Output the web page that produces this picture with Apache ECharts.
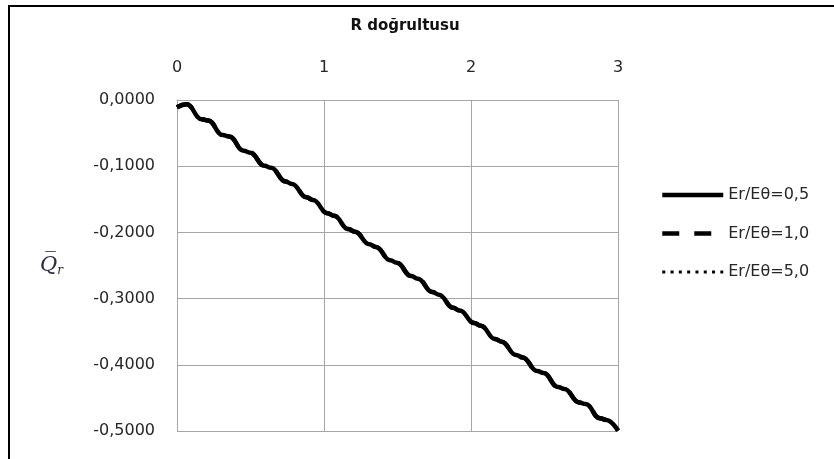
<!DOCTYPE html>
<html>
<head>
<meta charset="utf-8">
<script src="https://cdn.jsdelivr.net/npm/echarts@6/dist/echarts.min.js"></script>
<style>
  html, body { margin: 0; padding: 0; background: #ffffff; }
  #chart { width: 834px; height: 459px; }
</style>
</head>
<body>
<div id="chart"></div>
<script>
// Radial distance R along the section
const rValues = [
  0.000, 0.065,
  0.168, 0.212, 0.311, 0.355, 0.453, 0.497, 0.596, 0.640,
  0.738, 0.782, 0.881, 0.925, 1.024, 1.068, 1.166, 1.210,
  1.309, 1.353, 1.451, 1.495, 1.594, 1.638, 1.737, 1.781,
  1.879, 1.923, 2.022, 2.066, 2.164, 2.208, 2.307, 2.351,
  2.450, 2.494, 2.592, 2.636, 2.735, 2.779, 2.877, 2.921,
  3.000
];

// Normalised Q̄r; the three stiffness ratios give coincident curves
const qBar = [
  -0.0110, -0.0065,
  -0.0290, -0.0310, -0.0530, -0.0550, -0.0765, -0.0795, -0.0995, -0.1025,
  -0.1232, -0.1268, -0.1470, -0.1510, -0.1710, -0.1750, -0.1950, -0.1990,
  -0.2180, -0.2220, -0.2420, -0.2460, -0.2660, -0.2700, -0.2900, -0.2940,
  -0.3140, -0.3180, -0.3370, -0.3410, -0.3610, -0.3650, -0.3852, -0.3888,
  -0.4095, -0.4125, -0.4335, -0.4365, -0.4568, -0.4592, -0.4808, -0.4832,
  -0.4995
];

const seriesNames = ['Er/Eθ=0,5', 'Er/Eθ=1,0', 'Er/Eθ=5,0'];
const seriesDash = ['solid', [17, 15], [3, 5.3]];
const seriesWidth = [4.5, 4.5, 3];

const xTicks = { min: 0, max: 3, interval: 1 };
const yTicks = { min: -0.5, max: 0, interval: 0.1 };

const points = rValues.map((r, i) => [r, qBar[i]]);

const chart = echarts.init(document.getElementById('chart'), null, { renderer: 'canvas' });

const gridColor = '#a6a6a6';
const textColor = '#262626';
const baseFont = 'DejaVu Sans';

chart.setOption({
  backgroundColor: '#ffffff',
  animation: false,
  title: {
    text: 'R doğrultusu',
    left: 405,
    top: 19,
    textAlign: 'center',
    padding: 0,
    textStyle: { fontFamily: baseFont, fontWeight: 'bold', fontSize: 15, color: '#111111' }
  },
  grid: { left: 177, top: 100, right: 216, bottom: 28, containLabel: false },
  legend: {
    orient: 'vertical',
    left: 660,
    top: 185,
    itemWidth: 61,
    itemHeight: 20,
    itemGap: 18.5,
    padding: 0,
    data: seriesNames,
    // line-only keys, no marker on them
    itemStyle: { opacity: 0, color: 'rgba(0,0,0,0)', borderWidth: 0 },
    lineStyle: { width: 'inherit', type: 'inherit' },
    textStyle: { fontFamily: baseFont, fontSize: 16, color: textColor, lineHeight: 20, padding: [0, 0, 0, 0] }
  },
  xAxis: {
    type: 'value',
    position: 'top',
    min: xTicks.min,
    max: xTicks.max,
    interval: xTicks.interval,
    axisLine: { show: true, onZero: false, lineStyle: { color: gridColor, width: 1 } },
    axisTick: { show: false },
    splitLine: { show: true, showMinLine: true, showMaxLine: true, lineStyle: { color: gridColor, width: 1 } },
    axisLabel: { margin: 24, fontFamily: baseFont, fontSize: 16, color: textColor }
  },
  yAxis: {
    type: 'value',
    min: yTicks.min,
    max: yTicks.max,
    interval: yTicks.interval,
    name: '{q|Q\u0305}{r|r}',
    nameLocation: 'middle',
    nameRotate: 0,
    nameGap: 114,
    nameTextStyle: {
      rich: {
        q: { fontFamily: 'DejaVu Serif', fontStyle: 'italic', fontSize: 21, color: '#2a2a40', padding: [0, 0, 0, 0] },
        r: { fontFamily: 'DejaVu Serif', fontStyle: 'italic', fontSize: 12, color: '#2a2a40', verticalAlign: 'bottom', padding: [10, 0, 0, 0] }
      }
    },
    axisLine: { show: true, onZero: false, lineStyle: { color: gridColor, width: 1 } },
    axisTick: { show: false },
    splitLine: { show: true, showMinLine: true, showMaxLine: true, lineStyle: { color: gridColor, width: 1 } },
    axisLabel: {
      margin: 22,
      fontFamily: baseFont,
      fontSize: 16,
      color: textColor,
      formatter: v => (Math.abs(v) < 1e-9 ? 0 : v).toFixed(4).replace('.', ',')
    }
  },
  graphic: [{
    type: 'rect',
    silent: true,
    shape: { x: 9, y: 6, width: 900, height: 520 },
    style: { fill: null, stroke: '#000000', lineWidth: 2 }
  }],
  series: seriesNames.map((name, i) => ({
    name,
    type: 'line',
    data: points,
    showSymbol: false,
    symbol: 'none',
    smooth: 0.45,
    smoothMonotone: 'x',
    lineStyle: { color: '#000000', width: seriesWidth[i], type: seriesDash[i], cap: 'butt' },
    itemStyle: { color: '#000000' },
    z: 3 + i
  }))
});
</script>
</body>
</html>
